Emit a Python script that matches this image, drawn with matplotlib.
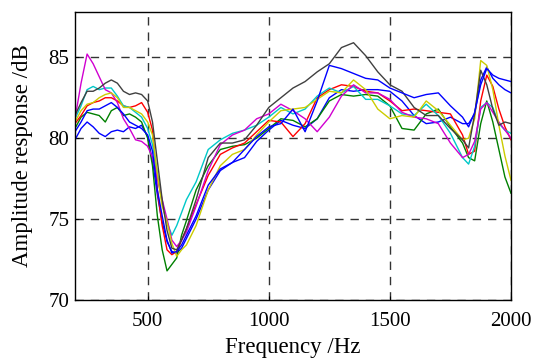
import matplotlib
matplotlib.use("Agg")
import matplotlib.pyplot as plt

freq = [200, 225, 250, 275, 300, 325, 350, 375, 400, 425, 450, 475,
        500, 520, 540, 560, 580, 600, 620, 640, 660,
        700, 750, 800, 850, 900, 950, 1000,
        1050, 1100, 1150, 1200, 1250, 1300, 1350, 1400, 1450, 1500,
        1550, 1600, 1650, 1700, 1750, 1800,
        1825, 1850, 1875, 1900, 1925, 1950, 1975, 2000]

magenta = [81.2, 83.4, 85.2, 84.6, 83.8, 83.0, 82.8, 82.2, 81.2, 80.6, 79.9, 79.8,
           79.5, 78.8, 77.5, 76.2, 75.0, 73.7, 73.3, 73.7, 74.2,
           75.8, 78.0, 79.6, 80.2, 80.5, 81.2, 81.5,
           82.1, 81.7, 81.2, 80.4, 81.3, 82.6, 83.3, 82.8, 82.8, 82.4,
           81.6, 81.3, 81.2, 80.9, 79.7, 78.8,
           79.0, 79.8, 81.8, 82.2, 81.6, 81.0, 80.5, 80.0]

black = [81.4, 82.2, 82.9, 82.9, 83.1, 83.4, 83.6, 83.4, 82.9, 82.7, 82.8, 82.7,
         82.3, 81.0, 78.6, 76.2, 74.3, 73.2, 73.1, 73.7, 74.4,
         76.2, 78.8, 79.7, 79.7, 79.9, 80.8, 81.9,
         82.5, 83.1, 83.5, 84.1, 84.6, 85.6, 85.9, 85.1, 84.1, 83.3,
         82.9, 81.9, 81.4, 81.4, 80.6, 79.9,
         79.4, 81.5, 84.2, 83.3, 81.8, 80.8, 81.0, 80.9]

cyan = [81.2, 82.0, 83.0, 83.2, 83.0, 83.1, 83.1, 82.6, 82.0, 81.9, 81.6, 81.3,
        80.6, 79.6, 77.8, 76.0, 74.8, 74.0, 74.6, 75.4, 76.2,
        77.3, 79.3, 79.9, 80.3, 80.5, 80.8, 81.3,
        81.9, 81.5, 81.8, 82.6, 83.1, 82.8, 83.2, 82.4, 82.4, 82.0,
        81.5, 81.4, 82.1, 81.4, 80.3, 78.8,
        78.4, 79.5, 81.9, 82.2, 81.9, 80.9, 80.5, 80.3]

yellow = [81.0, 81.7, 82.1, 82.2, 82.5, 82.7, 82.8, 82.5, 81.9, 81.9, 81.7, 81.5,
          81.0, 80.2, 77.8, 75.8, 74.8, 73.5, 72.7, 73.1, 73.4,
          74.6, 76.8, 78.3, 79.0, 79.3, 80.2, 81.0,
          81.7, 81.8, 81.9, 82.4, 82.9, 82.8, 83.6, 83.0, 81.8, 81.2,
          81.4, 81.3, 82.3, 81.7, 80.8, 79.9,
          80.0, 81.2, 84.8, 84.5, 83.0, 80.8, 78.9, 77.4]

red = [80.9, 81.4, 82.0, 82.2, 82.3, 82.5, 82.5, 82.3, 82.0, 81.9, 82.0, 82.2,
       81.6, 80.5, 76.8, 74.6, 73.1, 72.8, 73.0, 73.7, 74.4,
       75.9, 77.7, 79.0, 79.4, 79.7, 80.4, 81.1,
       81.0, 80.1, 80.9, 82.5, 83.0, 83.3, 83.2, 82.9, 82.8, 82.3,
       81.7, 81.8, 81.7, 81.6, 81.5, 80.2,
       79.0, 79.2, 82.3, 83.9, 83.2, 81.8, 80.7, 79.9]

green = [80.6, 81.3, 81.6, 81.5, 81.4, 81.0, 81.7, 81.9, 81.4, 81.5, 81.3, 81.0,
         80.0, 78.3, 75.2, 73.1, 71.8, 72.2, 72.6, 74.0, 74.9,
         76.8, 78.3, 79.3, 79.5, 79.6, 80.0, 80.6,
         81.2, 81.1, 80.7, 81.2, 82.3, 82.7, 82.6, 82.7, 82.6, 82.0,
         80.6, 80.5, 81.5, 81.8, 80.7, 79.7,
         78.8, 78.6, 80.9, 82.3, 81.0, 79.3, 77.6, 76.6]

blue1 = [80.4, 81.0, 81.7, 81.8, 81.8, 82.0, 82.2, 81.9, 81.5, 81.0, 80.8, 80.6,
         80.2, 79.2, 76.8, 75.2, 73.7, 72.9, 73.0, 73.4, 74.0,
         75.2, 77.1, 78.1, 78.5, 79.3, 80.1, 80.7,
         80.9, 81.8, 80.4, 82.3, 84.5, 84.3, 84.0, 83.7, 83.6, 83.1,
         82.8, 82.5, 82.7, 82.8, 82.0, 81.3,
         80.7, 81.6, 83.3, 84.3, 83.9, 83.7, 83.6, 83.5]

blue2 = [79.9, 80.6, 81.0, 80.7, 80.3, 80.1, 80.4, 80.5, 80.4, 80.7, 80.6, 80.8,
         80.1, 78.6, 76.5, 74.8, 73.6, 73.0, 72.9, 73.2, 73.8,
         75.0, 76.8, 78.0, 78.5, 78.8, 79.8, 80.5,
         81.1, 80.8, 80.6, 81.2, 82.5, 83.0, 82.9, 83.0, 83.0, 82.9,
         82.3, 81.4, 80.9, 81.0, 81.3, 80.9,
         80.9, 81.5, 83.6, 84.4, 83.7, 83.3, 83.0, 82.8]

series = [(blue2, '#0000ff'), (green, '#008000'), (red, '#ff0000'),
          (cyan, '#00c8c8'), (magenta, '#d000d0'), (yellow, '#cccc00'),
          (black, '#404040'), (blue1, '#0000ff')]

plt.rcParams['font.family'] = ['Liberation Serif', 'DejaVu Serif']

fig = plt.figure(figsize=(5.33, 3.61), dpi=100)
ax = fig.add_axes([0.1407, 0.169, 0.818, 0.7978])

for vals, col in series:
    ax.plot(freq, vals, color=col, lw=1.0)

ax.set_xlim(200, 2000)
ax.set_ylim(70, 87.8)
ax.set_xticks([500, 1000, 1500, 2000])
ax.set_yticks([70, 75, 80, 85])
ax.grid(True, color='#333333', linestyle=(0, (6, 5)), lw=1.0)
ax.tick_params(direction='in', length=3, labelsize=15)
ax.tick_params(axis='x', pad=9)
ax.tick_params(axis='y', pad=4)
for s in ax.spines.values():
    s.set_linewidth(1.0)

ax.set_xlabel('Frequency /Hz', fontsize=16.5, labelpad=4)
ax.set_ylabel('Amplitude response /dB', fontsize=16.5, labelpad=11)

fig.savefig('out.png', dpi=100)
